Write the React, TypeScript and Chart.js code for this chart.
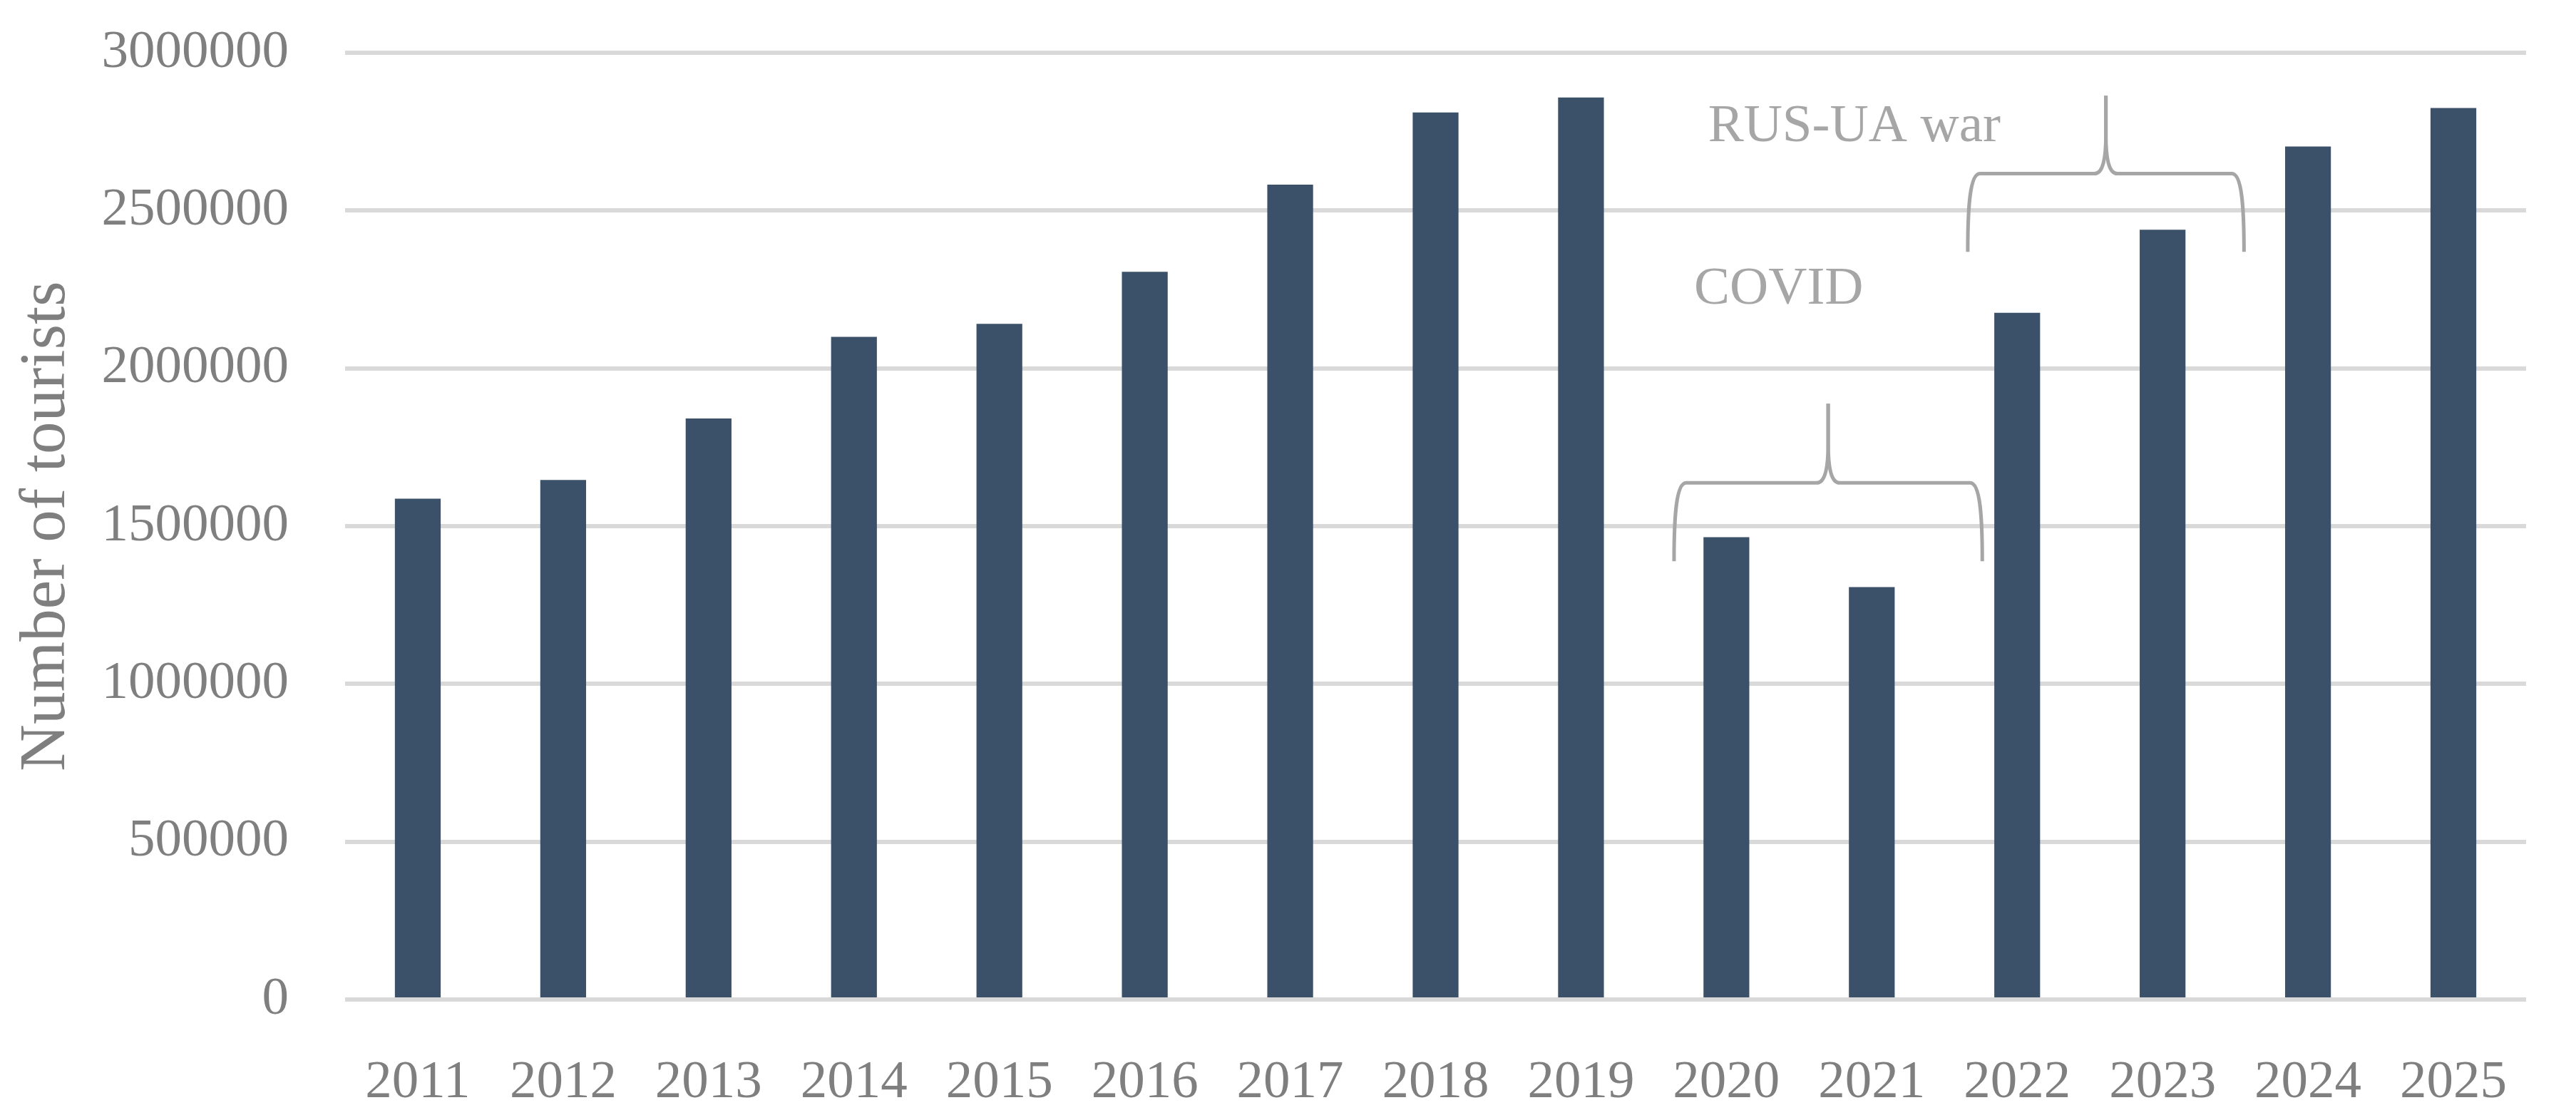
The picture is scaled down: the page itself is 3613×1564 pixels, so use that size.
import { useEffect, useRef } from "react";
import { Chart, registerables } from "chart.js";

Chart.register(...registerables);

const years = ["2011", "2012", "2013", "2014", "2015", "2016", "2017", "2018", "2019", "2020", "2021", "2022", "2023", "2024", "2025"];
const tourists = [1587000, 1646000, 1841000, 2100000, 2141000, 2306000, 2582000, 2811000, 2858000, 1465000, 1307000, 2176000, 2439000, 2703000, 2825000];

// annotation braces (category index / value units)
const braceNames = ["COVID", "RUS-UA war"];
const braceFrom = [8.64, 10.66];
const braceTo = [10.76, 12.56];
const braceMid = [9.7, 11.61];
const braceBase = [1389000, 2369000];
const braceBar = [1637000, 2617000];
const braceTip = [1888000, 2864000];
const labelAt = [9.36, 9.88];
const labelVal = [2250000, 2764000];

const FONT = "'Liberation Serif', 'DejaVu Serif', serif";

const bracePlugin = {
  id: "braces",
  afterDatasetsDraw(chart: any) {
    const { ctx, scales } = chart;
    const xs = scales.x;
    const ys = scales.y;
    ctx.save();
    ctx.strokeStyle = "#a6a6a6";
    ctx.lineWidth = 5;
    ctx.lineJoin = "round";
    braceNames.forEach((name, i) => {
      const x0 = xs.getPixelForValue(braceFrom[i]);
      const x1 = xs.getPixelForValue(braceTo[i]);
      const xm = xs.getPixelForValue(braceMid[i]);
      const yb = ys.getPixelForValue(braceBase[i]);
      const yh = ys.getPixelForValue(braceBar[i]);
      const yt = ys.getPixelForValue(braceTip[i]);
      const cw = 17;
      const tw = 16;
      const th = yh - yt;
      for (const dir of [1, -1]) {
        const xe = dir === 1 ? x0 : x1;
        ctx.beginPath();
        ctx.moveTo(xe, yb);
        ctx.bezierCurveTo(xe, yb - (yb - yh) * 0.55, xe + dir * cw * 0.15, yh, xe + dir * cw, yh);
        ctx.lineTo(xm - dir * tw, yh);
        ctx.bezierCurveTo(xm - dir * tw * 0.25, yh, xm, yh - th * 0.2, xm, yh - th * 0.5);
        ctx.lineTo(xm, yt);
        ctx.stroke();
      }
      ctx.fillStyle = "#a6a6a6";
      ctx.font = `75px ${FONT}`;
      ctx.textAlign = "center";
      ctx.textBaseline = "middle";
      ctx.fillText(name, xs.getPixelForValue(labelAt[i]), ys.getPixelForValue(labelVal[i]));
    });
    ctx.restore();
  },
};

const App = () => {
  const canvasRef: any = useRef(null);

  useEffect(() => {
    const ctx = canvasRef.current.getContext("2d");
    const chart = new Chart(ctx, {
      type: "bar",
      data: {
        labels: years,
        datasets: [
          {
            label: "Number of tourists",
            data: tourists,
            backgroundColor: "#3b5169",
            categoryPercentage: 1,
            barPercentage: 0.315,
          },
        ],
      },
      options: {
        animation: false,
        responsive: true,
        maintainAspectRatio: false,
        layout: { padding: { left: 11, top: 74, right: 70, bottom: 0 } },
        plugins: {
          legend: { display: false },
          tooltip: { enabled: false },
        },
        scales: {
          x: {
            grid: { display: false },
            border: { display: false },
            ticks: {
              color: "#7f7f7f",
              font: { family: FONT, size: 75, lineHeight: 1.2 },
              padding: 64,
              maxRotation: 0,
            },
            afterFit: (scale: any) => {
              scale.height = 162;
            },
          },
          y: {
            min: 0,
            max: 3000000,
            border: { display: false },
            grid: { color: "#d9d9d9", lineWidth: 6, drawTicks: false },
            ticks: {
              stepSize: 500000,
              color: "#7f7f7f",
              font: { family: FONT, size: 75, lineHeight: 1.2 },
              padding: 79,
              callback: (v: any) => String(v),
            },
            title: {
              display: true,
              text: "Number of tourists",
              color: "#7f7f7f",
              font: { family: FONT, size: 91, lineHeight: 1.2 },
              padding: 0,
            },
            afterFit: (scale: any) => {
              scale.width = 473;
              scale.paddingTop = 45;
              scale.paddingBottom = 0;
            },
          },
        },
      },
      plugins: [bracePlugin],
    });
    return () => {
      chart.destroy();
    };
  }, []);

  return (
    <div style={{ position: "absolute", left: 0, top: 0, width: 3613, height: 1564, background: "#fff" }}>
      <canvas ref={canvasRef} />
    </div>
  );
};

export default App;
